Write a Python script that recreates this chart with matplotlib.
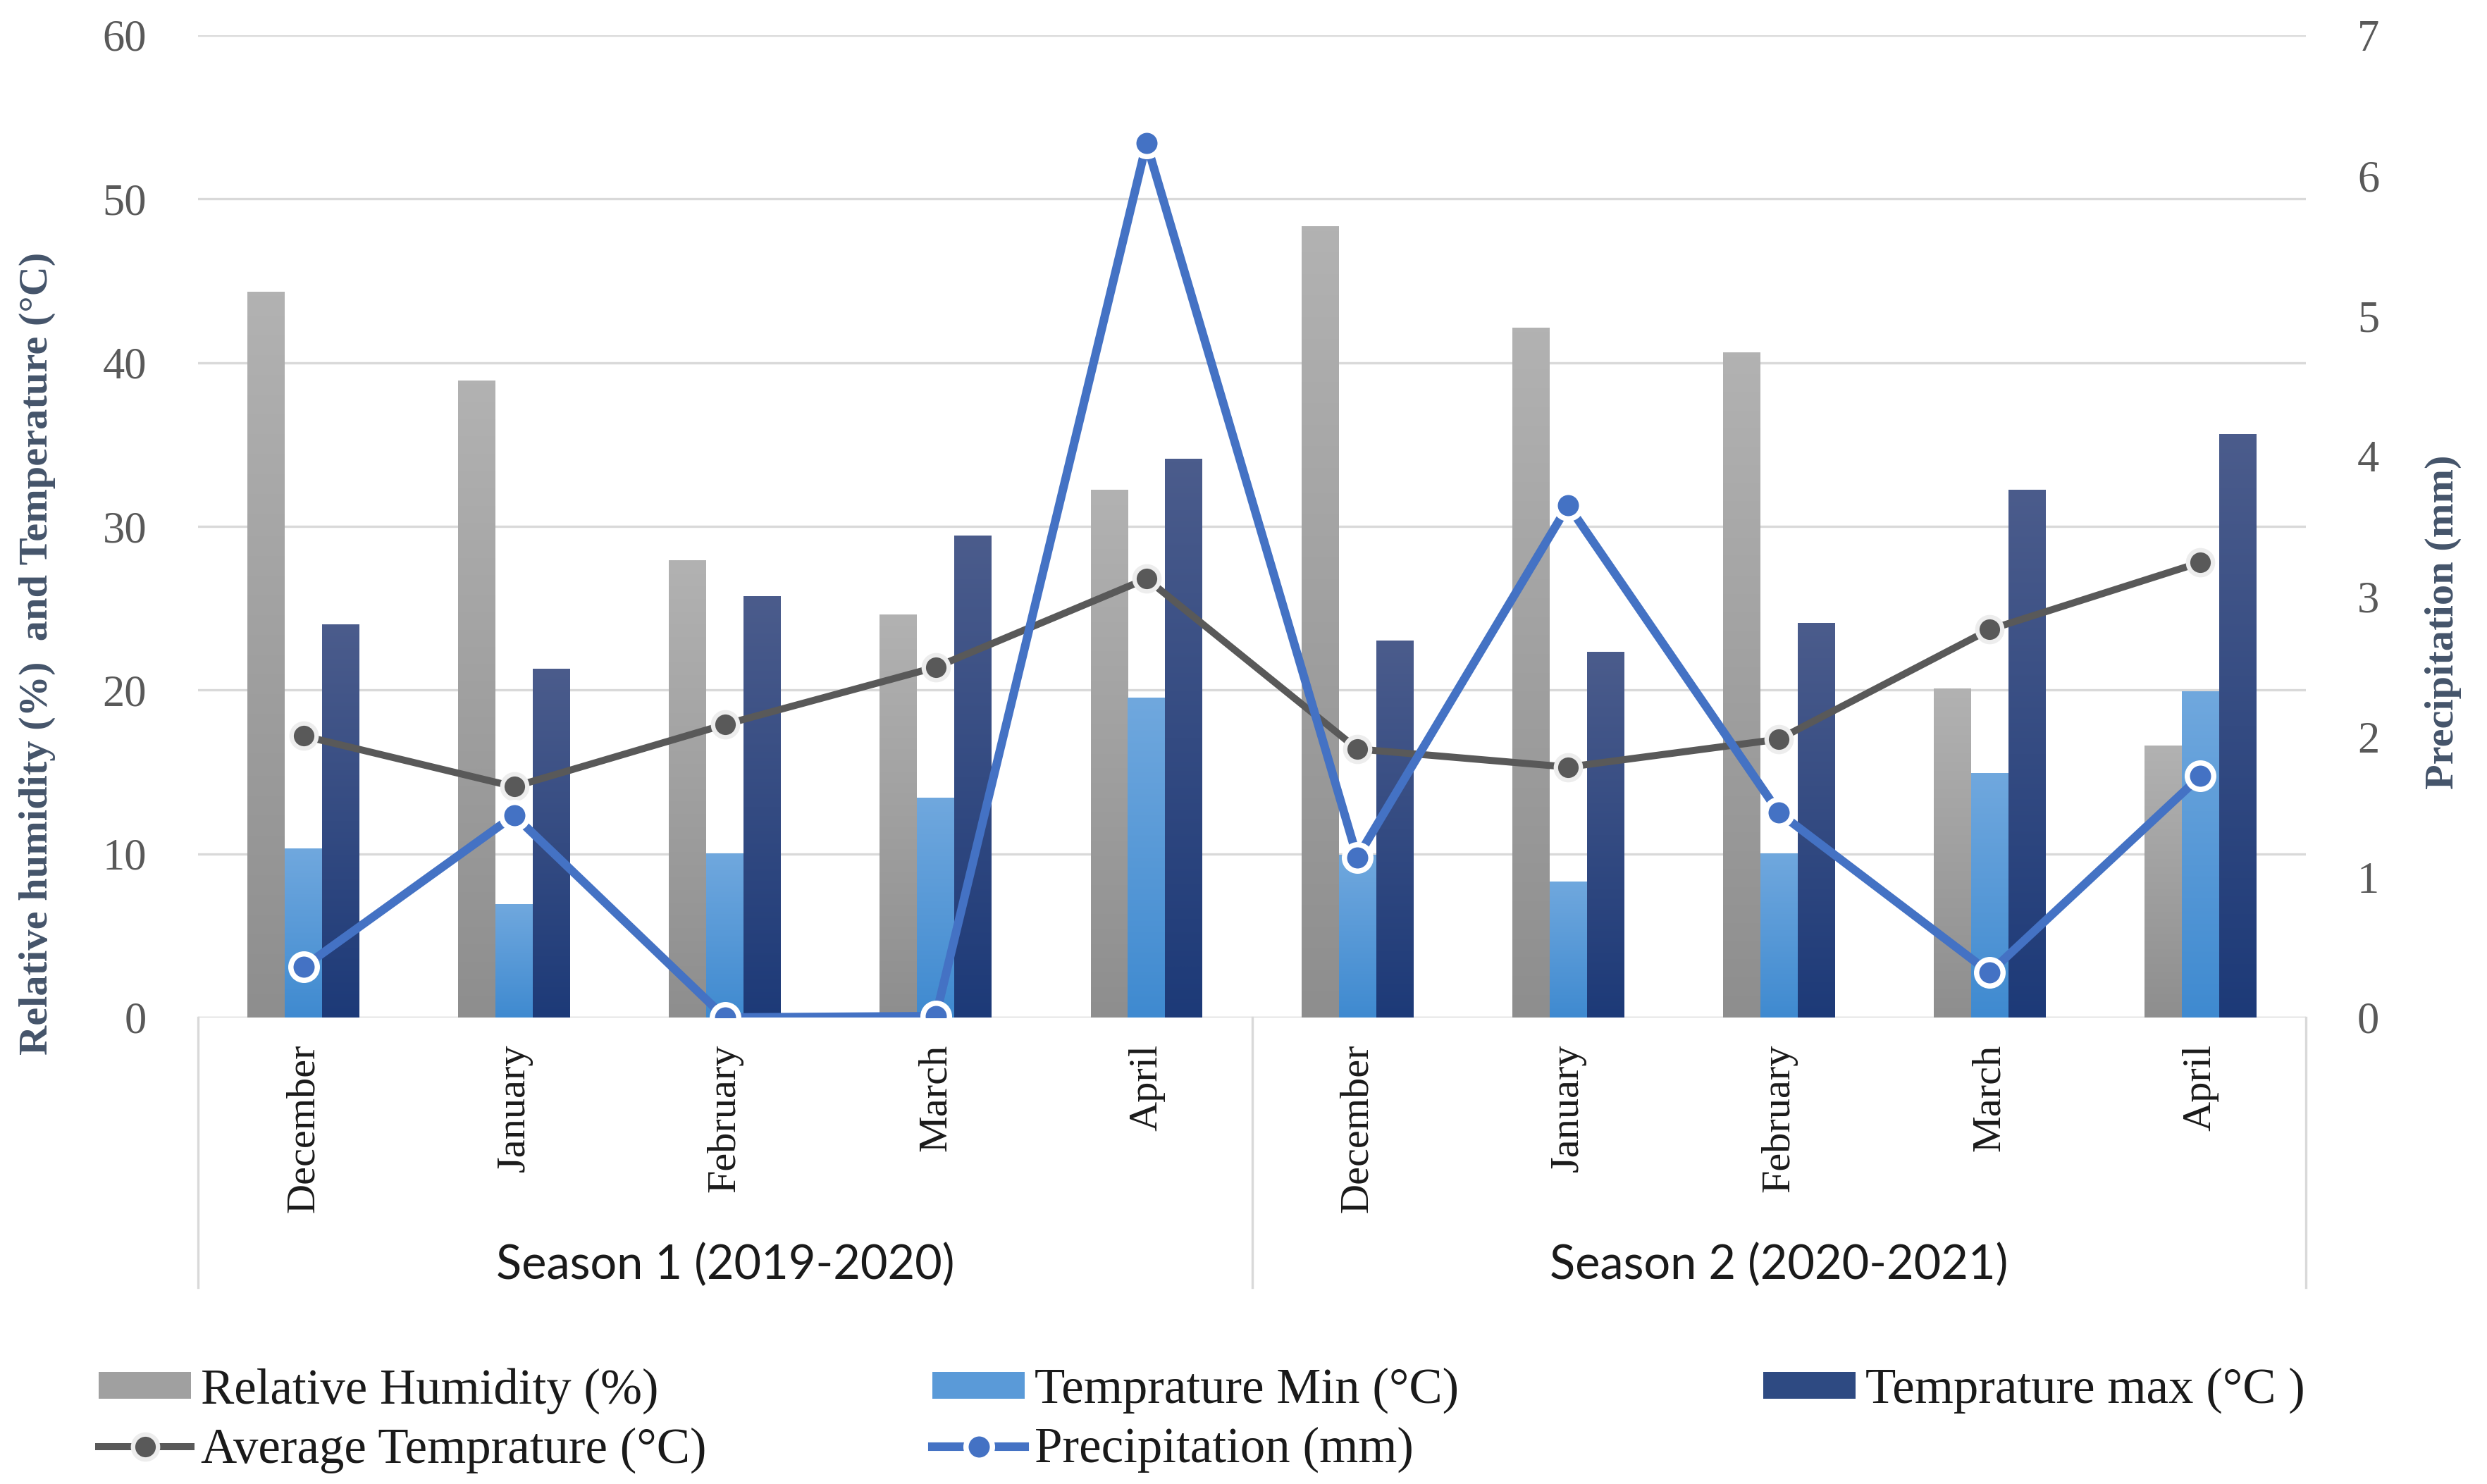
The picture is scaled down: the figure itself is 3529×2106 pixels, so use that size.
import numpy as np
import matplotlib
matplotlib.use("Agg")
import matplotlib.pyplot as plt
from matplotlib.colors import LinearSegmentedColormap
from matplotlib.patches import Patch
from matplotlib.lines import Line2D

months = ["December", "January", "February", "March", "April"] * 2
seasons = ["Season 1 (2019-2020)", "Season 2 (2020-2021)"]

rel_humidity = [44.3, 38.9, 27.9, 24.6, 32.2, 48.3, 42.1, 40.6, 20.1, 16.6]
temp_min = [10.3, 6.9, 10.0, 13.4, 19.5, 9.9, 8.3, 10.0, 14.9, 19.9]
temp_max = [24.0, 21.3, 25.7, 29.4, 34.1, 23.0, 22.3, 24.1, 32.2, 35.6]
temp_avg = [17.2, 14.1, 17.9, 21.4, 26.8, 16.4, 15.3, 17.0, 23.7, 27.8]
precip = [0.36, 1.44, 0.0, 0.01, 6.23, 1.14, 3.65, 1.46, 0.32, 1.72]

serif = "Liberation Serif"
label_col = "#44546A"
tick_col = "#595959"
text_col = "#1a1a1a"
grid_col = "#D9D9D9"

W, H = 3529, 2106
fig = plt.figure(figsize=(W / 300, H / 300), dpi=300)
ax = fig.add_axes([281 / W, 1 - 1444 / H, (3272 - 281) / W, (1444 - 50) / H])


def gradient_bars(ax, x, heights, width, top, bottom, z=2):
    bars = ax.bar(x, heights, width, color="none", zorder=z)
    cmap = LinearSegmentedColormap.from_list("g", [bottom, top])
    grad = np.linspace(0, 1, 256).reshape(-1, 1)
    for b in bars:
        x0, w, h = b.get_x(), b.get_width(), b.get_height()
        ax.imshow(grad, extent=[x0, x0 + w, 0, h], origin="lower", aspect="auto",
                  cmap=cmap, zorder=z, interpolation="bilinear")
    return bars


x = np.arange(len(months))
bw = 0.177
gradient_bars(ax, x - bw, rel_humidity, bw, "#B2B2B2", "#8E8E8E")
gradient_bars(ax, x, temp_min, bw, "#70A8DE", "#3F8AD0")
gradient_bars(ax, x + bw, temp_max, bw, "#4B5C8C", "#1D3A78")

ax.plot(x, temp_avg, color="#595959", lw=2.4, marker="o", ms=8.5,
        mfc="#595959", mec="#EDEDED", mew=1.5, zorder=4)

ax.set_xlim(-0.5, 9.5)
ax.set_ylim(0, 60)
ax.set_yticks(np.arange(0, 61, 10))
ax.yaxis.grid(True, color=grid_col, lw=0.8, zorder=0)
ax.set_axisbelow(True)
for s in ax.spines.values():
    s.set_visible(False)
ax.tick_params(axis="y", length=0, pad=17.5, labelsize=15, labelcolor=tick_col)
for t in ax.get_yticklabels():
    t.set_fontfamily(serif)
ax.set_xticks(x)
ax.set_xticklabels(months, rotation=90, fontsize=14, color=text_col, family=serif)
ax.tick_params(axis="x", length=0, pad=9)

# category axis lines
ax.axhline(0, color=grid_col, lw=0.8, zorder=1)
depth = -(1827 - 1444) / (1444 - 50)
for xv in [-0.5, 4.5, 9.5]:
    ax.plot([xv, xv], [0, depth], transform=ax.get_xaxis_transform(),
            color=grid_col, lw=0.8, clip_on=False)
for i, name in enumerate(seasons):
    ax.text(2 + 5 * i, -(1796 - 1444) / (1444 - 50), name,
            transform=ax.get_xaxis_transform(), ha="center", va="center",
            fontsize=16, family="Lato", color=text_col)

ax2 = ax.twinx()
ax2.plot(x, precip, color="#4472C4", lw=2.9, marker="o", ms=9,
         mfc="#4472C4", mec="white", mew=1.8, zorder=5)
ax2.set_ylim(0, 7)
ax2.set_yticks(range(8))
for s in ax2.spines.values():
    s.set_visible(False)
ax2.tick_params(axis="y", length=0, pad=17.5, labelsize=15, labelcolor=tick_col)
for t in ax2.get_yticklabels():
    t.set_fontfamily(serif)

fig.text(53 / W, 1 - 927 / H, "Relative humidity (%)  and Temperature (\u00b0C)",
         rotation=90, ha="center", va="center", fontsize=14, fontweight="bold",
         family=serif, color=label_col)
fig.text(3467 / W, 1 - 883 / H, "Precipitation (mm)", rotation=90,
         ha="center", va="center", fontsize=14, fontweight="bold",
         family=serif, color=label_col)

# legend, three columns placed separately
h_rh = Patch(facecolor="#A0A0A0")
h_tmin = Patch(facecolor="#5A9AD8")
h_tmax = Patch(facecolor="#2E4A82")
h_avg = Line2D([], [], color="#595959", lw=2.4, marker="o", ms=8.5,
               mfc="#595959", mec="#EDEDED", mew=1.5)
h_pr = Line2D([], [], color="#4472C4", lw=2.9, marker="o", ms=9,
              mfc="#4472C4", mec="white", mew=1.8)
cols = [
    ([h_rh, h_avg], ["Relative Humidity (%)", "Average Temprature (\u00b0C)"], 140),
    ([h_tmin, h_pr], ["Temprature Min (\u00b0C)", "Precipitation (mm)"], 1323),
    ([h_tmax], ["Temprature max (\u00b0C )"], 2502),
]
for handles, labels, px in cols:
    fig.legend(handles, labels, loc="upper left", bbox_to_anchor=(px / W, 1 - 1941 / H),
               frameon=False, borderpad=0, borderaxespad=0, handlelength=1.85,
               handleheight=0.45, handletextpad=0.2, labelspacing=0.26,
               prop={"family": serif, "size": 17}, labelcolor=text_col)

fig.savefig("out.png", dpi=300, facecolor="white")
